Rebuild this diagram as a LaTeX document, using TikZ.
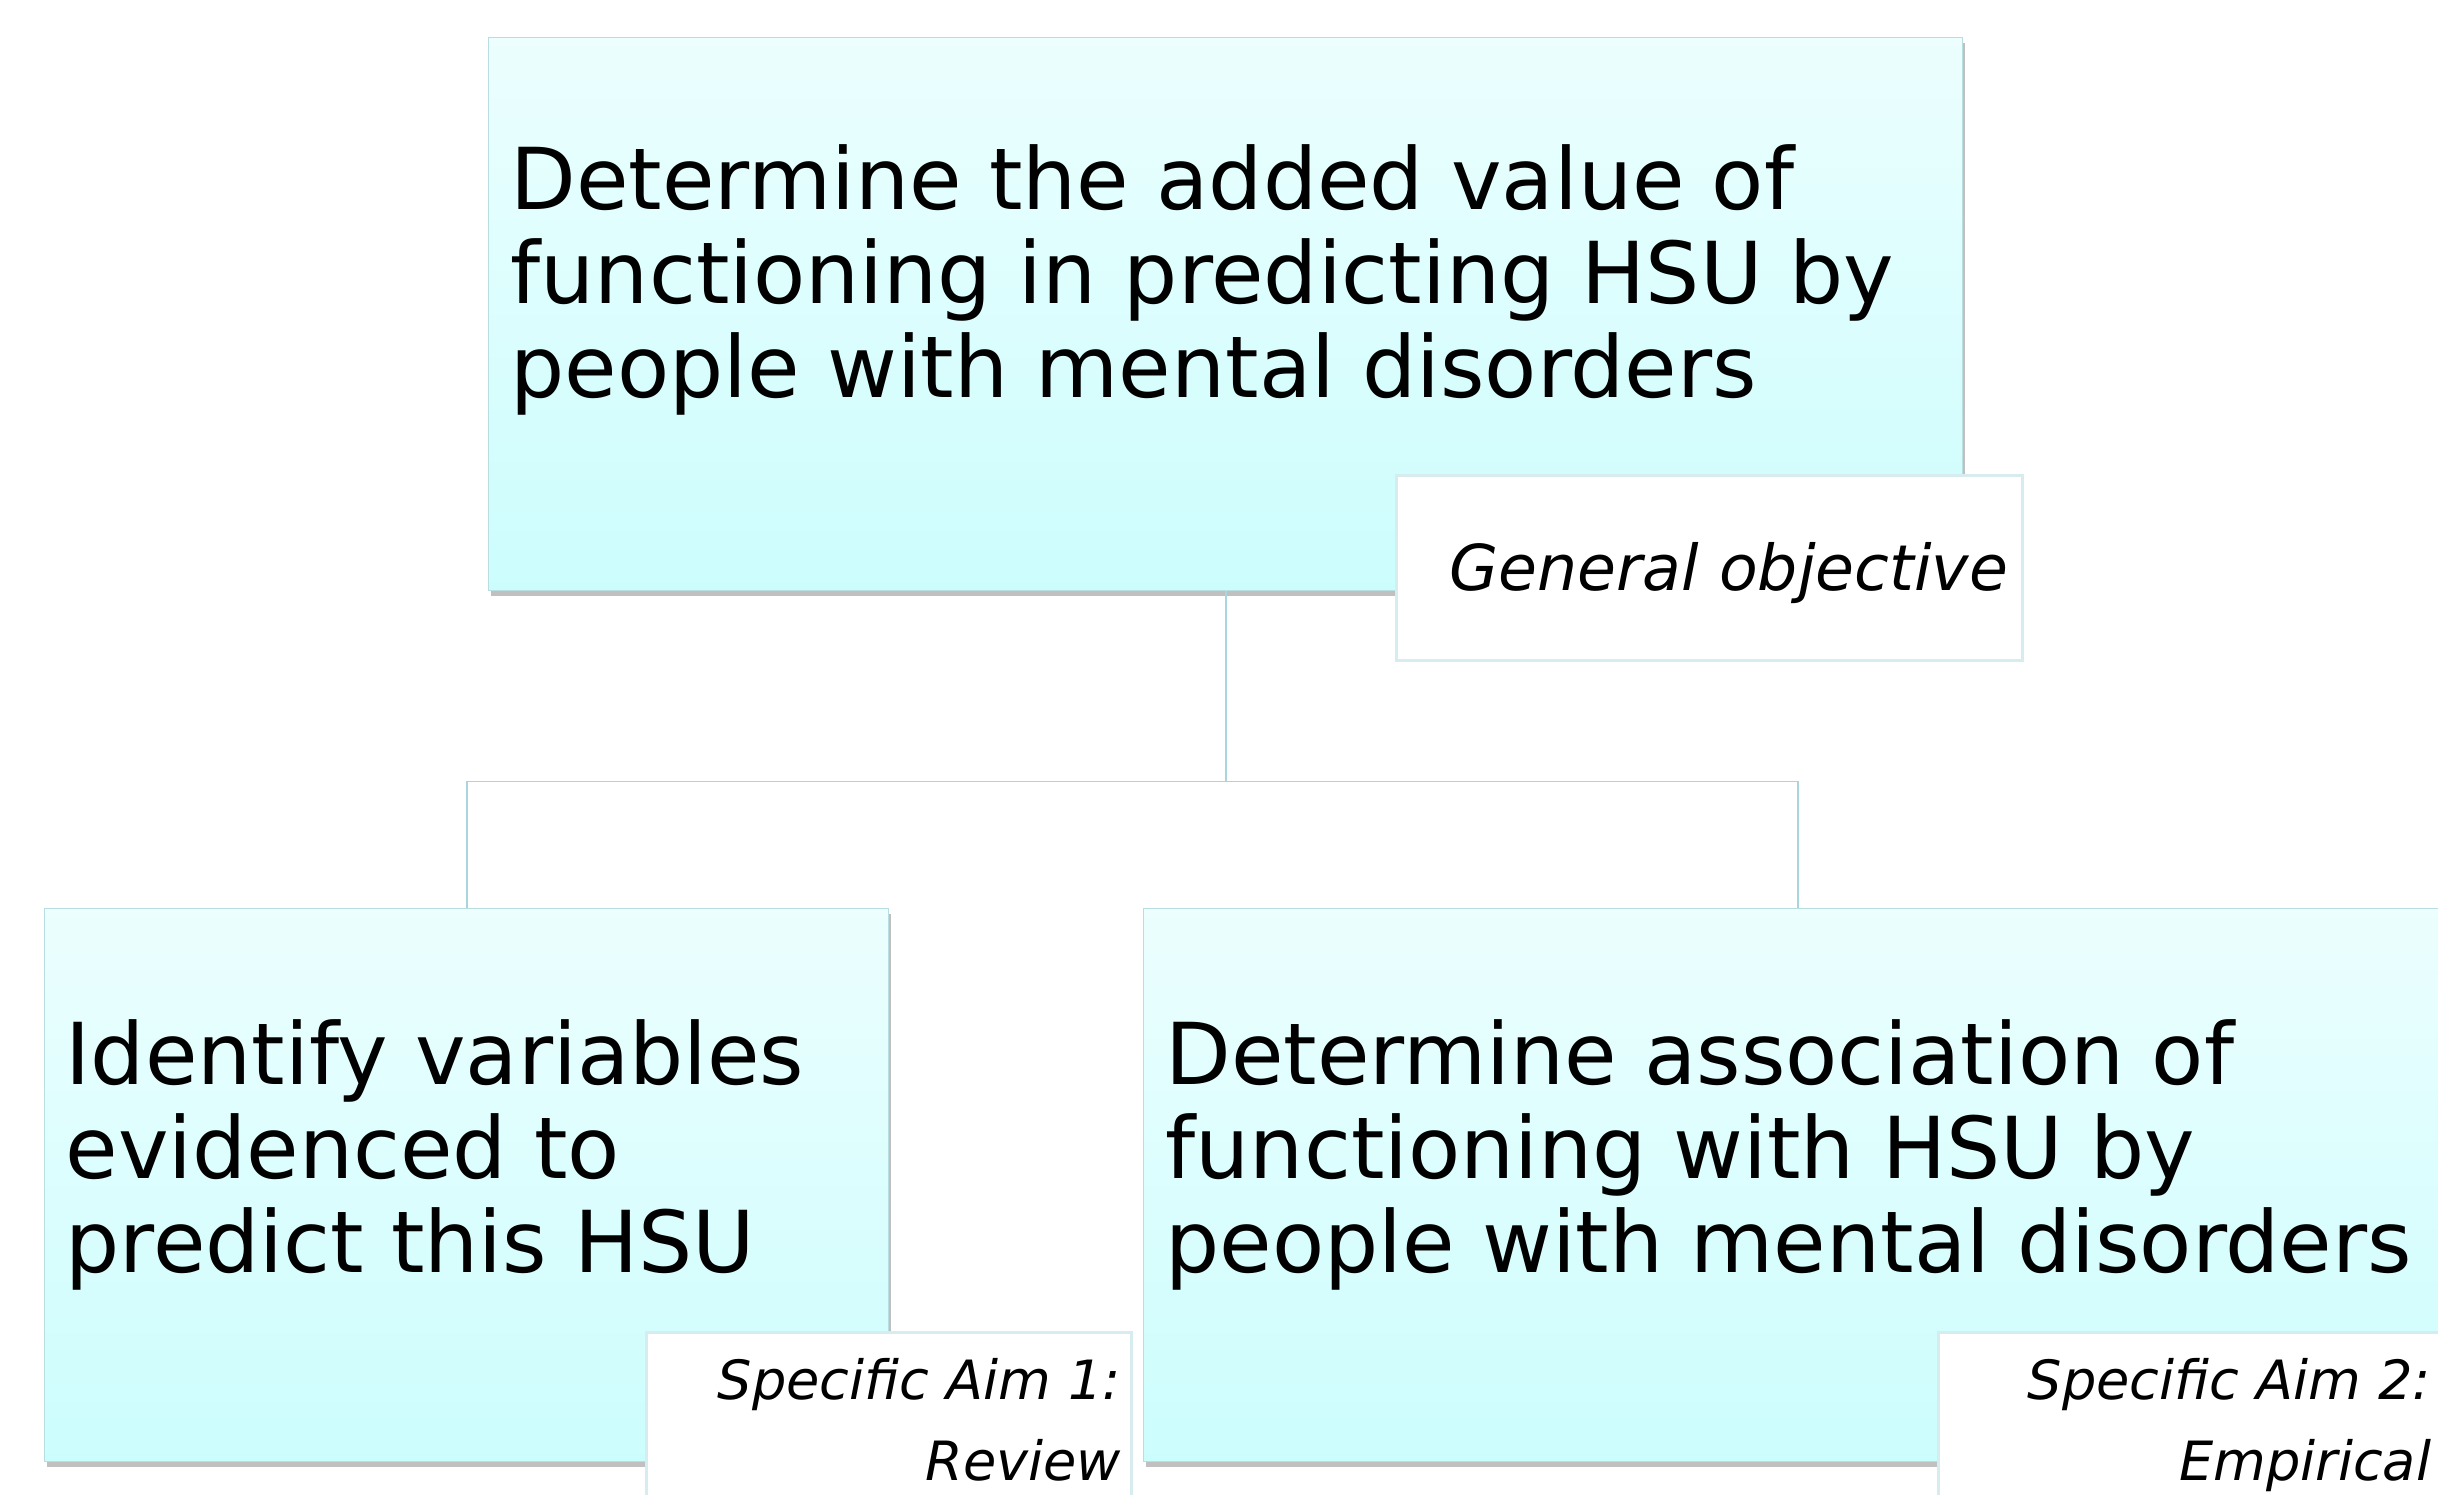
\documentclass[tikz,border=0pt]{standalone}
\usepackage{fontspec}
\setmainfont{DejaVu Sans}
\usetikzlibrary{shadows,positioning}

\definecolor{boxtop}{RGB}{236,254,254}
\definecolor{boxbot}{RGB}{204,253,253}
\definecolor{boxline}{RGB}{184,222,226}
\definecolor{tagline}{RGB}{214,236,238}
\definecolor{linkline}{RGB}{168,214,220}

\begin{document}
\begin{tikzpicture}[thin,
    aimbox/.style={draw=boxline, top color=boxtop, bottom color=boxbot, anchor=north west,
      inner sep=0pt, minimum height=5.53cm,
      drop shadow={shadow xshift=0.02cm, shadow yshift=-0.05cm, opacity=.45, fill=black!55}},
    aimtext/.style={font=\fontsize{24.3}{26.7}\selectfont, align=left, anchor=north west, inner sep=0pt},
    tag/.style={draw=tagline, line width=0.8pt, fill=white, anchor=north west, inner sep=0pt, minimum height=1.85cm},
    link/.style={draw=linkline, line width=0.5pt}]
  \useasboundingbox (0,0) rectangle (24.38,14.94);

  % boxes
  \node[aimbox, minimum width=14.74cm] (general) at (4.88,14.57) {};
  \node[aimbox, minimum width=8.44cm] (aimone) at (0.44,5.86) {};
  \node[aimbox, minimum width=13.08cm] (aimtwo) at (11.43,5.86) {};

  \node[aimtext] (generaltext) at ([shift={(0.22,-1.07)}]general.north west)
    {Determine the added value of\\functioning in predicting HSU by\\people with mental disorders};
  \node[aimtext] (aimonetext) at ([shift={(0.21,-1.11)}]aimone.north west)
    {Identify variables\\evidenced to\\predict this HSU};
  \node[aimtext] (aimtwotext) at ([shift={(0.22,-1.11)}]aimtwo.north west)
    {Determine association of\\functioning with HSU by\\people with mental disorders};

  % tags
  \node[tag, minimum width=6.26cm] (generaltag) at (13.95,10.20) {};
  \node[tag, minimum width=4.85cm] (aimonetag) at (6.45,1.63) {};
  \node[tag, minimum width=5.02cm] (aimtwotag) at (19.37,1.63) {};

  \node[font=\fontsize{18}{23}\selectfont\itshape, inner sep=0pt, anchor=base east] (generaltagtext)
    at ([shift={(-0.15,-1.17)}]generaltag.north east) {General objective};
  \node[font=\fontsize{15.4}{23}\selectfont\itshape, align=right, inner sep=0pt, anchor=north east] (aimonetagtext)
    at ([shift={(-0.11,-0.27)}]aimonetag.north east) {Specific Aim 1:\\Review};
  \node[font=\fontsize{15.4}{23}\selectfont\itshape, align=right, inner sep=0pt, anchor=north east] (aimtwotagtext)
    at ([shift={(-0.10,-0.27)}]aimtwotag.north east) {Specific Aim 2:\\Empirical};

  % links
  \coordinate[below=1.9cm of general.south] (split);
  \draw[link] (general.south) -- (split) -| (aimone.north);
  \draw[link] (split) -| (aimtwo.north);
\end{tikzpicture}
\end{document}
